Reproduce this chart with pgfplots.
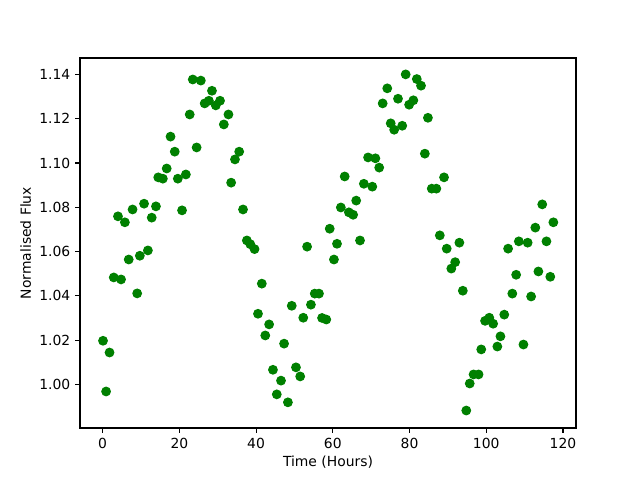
\documentclass[border=0pt]{standalone}
\usepackage{pgfplots}
\pgfplotsset{compat=1.18}
\usepackage{fontspec}
\setmainfont{DejaVu Sans}
\usetikzlibrary{calc}
\definecolor{mplgreen}{HTML}{008000}
\begin{document}
\begin{tikzpicture}
\begin{axis}[
  scale only axis,
  width=357.1pt, height=266.4pt,
  xmin=-5.9, xmax=123.4,
  ymin=0.9803, ymax=1.1474,
  xtick={0,20,40,60,80,100,120},
  ytick={1.00,1.02,1.04,1.06,1.08,1.10,1.12,1.14},
  yticklabel style={/pgf/number format/.cd,fixed,fixed zerofill,precision=2},
  /pgf/number format/assume math mode=true,
  tick align=outside,
  major tick length=3.5pt,
  tick style={black, line width=0.8pt},
  axis line style={line width=0.8pt},
  xtick pos=bottom, ytick pos=left,
  tick label style={font=\fontsize{10}{12}\selectfont},
  label style={font=\fontsize{10}{12}\selectfont},
  xlabel={Time (Hours)},
  ylabel={Normalised Flux},
  xlabel style={yshift=1pt},
  ylabel style={yshift=-1pt},
  clip=false,
]
\addplot[only marks, mark=*, mark size=3.1pt, color=mplgreen, mark options={line width=0.8pt}] coordinates {
(0.1,1.0197)(0.9,0.9968)(1.8,1.0144)(2.9,1.0483)(4.0,1.0759)(4.8,1.0474)
(5.8,1.0732)(6.8,1.0564)(7.8,1.0790)(9.0,1.0411)(9.7,1.0581)(10.8,1.0816)
(11.8,1.0605)(12.8,1.0753)(13.9,1.0804)(14.5,1.0935)(15.7,1.0929)(16.7,1.0975)
(17.7,1.1119)(18.8,1.1051)(19.6,1.0929)(20.7,1.0786)(21.7,1.0948)(22.7,1.1219)
(23.5,1.1377)(24.5,1.1070)(25.6,1.1372)(26.6,1.1269)(27.7,1.1281)(28.5,1.1326)
(29.5,1.1260)(30.6,1.1281)(31.6,1.1174)(32.8,1.1219)(33.5,1.0911)(34.5,1.1016)
(35.6,1.1051)(36.6,1.0790)(37.6,1.0650)(38.5,1.0633)(39.6,1.0611)(40.5,1.0319)
(41.5,1.0455)(42.4,1.0221)(43.4,1.0271)(44.4,1.0066)(45.4,0.9955)(46.5,1.0017)
(47.3,1.0184)(48.3,0.9919)(49.3,1.0355)(50.4,1.0077)(51.5,1.0036)(52.3,1.0301)
(53.3,1.0622)(54.3,1.0360)(55.3,1.0410)(56.4,1.0410)(57.2,1.0300)(58.3,1.0293)
(59.2,1.0703)(60.3,1.0564)(61.1,1.0635)(62.1,1.0799)(63.1,1.0939)(64.2,1.0777)
(65.3,1.0766)(66.1,1.0830)(67.1,1.0650)(68.1,1.0906)(69.2,1.1025)(70.3,1.0893)
(71.1,1.1021)(72.1,1.0979)(73.0,1.1269)(74.2,1.1337)(75.1,1.1179)(76.0,1.1150)
(77.0,1.1290)(78.1,1.1168)(79.0,1.1400)(79.9,1.1263)(81.0,1.1283)(81.9,1.1379)
(83.0,1.1349)(84.0,1.1042)(84.8,1.1204)(85.8,1.0884)(87.0,1.0884)(87.9,1.0673)
(89.0,1.0935)(89.7,1.0613)(90.9,1.0523)(91.9,1.0552)(93.0,1.0640)(93.9,1.0423)
(94.8,0.9882)(95.7,1.0004)(96.7,1.0045)(98.0,1.0045)(98.7,1.0158)(99.7,1.0287)
(100.8,1.0301)(101.8,1.0274)(102.9,1.0171)(103.7,1.0217)(104.7,1.0315)(105.7,1.0613)
(106.8,1.0410)(107.8,1.0495)(108.5,1.0646)(109.7,1.0180)(110.8,1.0640)(111.7,1.0397)
(112.8,1.0708)(113.6,1.0510)(114.6,1.0813)(115.7,1.0646)(116.7,1.0486)(117.5,1.0732)
};
\end{axis}
\path ($(current axis.south west)+(-57.6pt,-37.44pt)$) rectangle ($(current axis.north east)+(46.08pt,41.76pt)$);
\end{tikzpicture}
\end{document}
